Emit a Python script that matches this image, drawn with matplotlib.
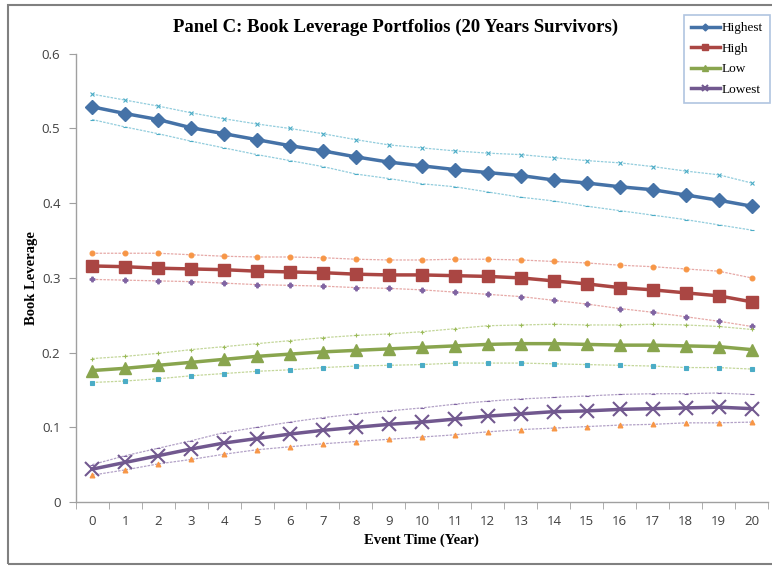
#!/usr/bin/env python3
import matplotlib
matplotlib.use("Agg")
import matplotlib.pyplot as plt
from matplotlib.patches import Rectangle

# event years
years = list(range(21))

# main portfolio series (book leverage)
highest = [0.529, 0.520, 0.512, 0.501, 0.493, 0.485, 0.477, 0.470, 0.462, 0.455, 0.450,
           0.445, 0.441, 0.437, 0.431, 0.427, 0.422, 0.418, 0.411, 0.404, 0.396]
high = [0.316, 0.315, 0.313, 0.312, 0.311, 0.309, 0.308, 0.307, 0.305, 0.304, 0.304,
        0.303, 0.302, 0.300, 0.296, 0.292, 0.287, 0.284, 0.280, 0.276, 0.268]
low = [0.176, 0.179, 0.183, 0.187, 0.191, 0.195, 0.198, 0.201, 0.203, 0.205, 0.207,
       0.209, 0.211, 0.212, 0.212, 0.211, 0.210, 0.210, 0.209, 0.208, 0.204]
lowest = [0.044, 0.053, 0.062, 0.071, 0.079, 0.085, 0.091, 0.096, 0.100, 0.104, 0.107,
          0.111, 0.115, 0.118, 0.121, 0.122, 0.124, 0.125, 0.126, 0.127, 0.125]

# confidence bands (upper / lower)
highest_up = [0.546, 0.538, 0.530, 0.521, 0.513, 0.506, 0.500, 0.493, 0.485, 0.478, 0.474,
              0.470, 0.467, 0.465, 0.461, 0.457, 0.454, 0.449, 0.443, 0.438, 0.427]
highest_lo = [0.512, 0.502, 0.493, 0.483, 0.474, 0.465, 0.457, 0.449, 0.439, 0.433, 0.426,
              0.422, 0.415, 0.408, 0.403, 0.396, 0.390, 0.384, 0.378, 0.371, 0.364]
high_up = [0.333, 0.333, 0.333, 0.331, 0.329, 0.328, 0.328, 0.327, 0.325, 0.324, 0.324,
           0.325, 0.325, 0.324, 0.322, 0.320, 0.317, 0.315, 0.312, 0.309, 0.300]
high_lo = [0.298, 0.297, 0.296, 0.295, 0.293, 0.291, 0.290, 0.289, 0.287, 0.286, 0.284,
           0.281, 0.278, 0.275, 0.270, 0.265, 0.259, 0.254, 0.248, 0.242, 0.235]
low_up = [0.192, 0.195, 0.199, 0.204, 0.208, 0.212, 0.216, 0.220, 0.223, 0.225, 0.228,
          0.232, 0.236, 0.237, 0.238, 0.237, 0.237, 0.238, 0.237, 0.235, 0.231]
low_lo = [0.160, 0.162, 0.165, 0.169, 0.172, 0.175, 0.177, 0.180, 0.182, 0.183, 0.184,
          0.186, 0.186, 0.186, 0.185, 0.184, 0.183, 0.182, 0.180, 0.180, 0.178]
lowest_up = [0.050, 0.062, 0.072, 0.082, 0.093, 0.100, 0.107, 0.113, 0.118, 0.122, 0.126,
             0.131, 0.135, 0.138, 0.140, 0.142, 0.144, 0.145, 0.145, 0.146, 0.144]
lowest_lo = [0.036, 0.043, 0.051, 0.057, 0.064, 0.070, 0.074, 0.078, 0.081, 0.084, 0.087,
             0.090, 0.094, 0.097, 0.099, 0.101, 0.103, 0.104, 0.106, 0.106, 0.107]

serif = "Liberation Serif"
sans = "Open Sans"

fig = plt.figure(figsize=(7.72, 5.66), dpi=100)
ax = fig.add_axes([0.098, 0.113, 0.897, 0.792])

# thin dotted bands first
bands = [
    (highest_up, "#93CDDD", "x", "#4BACC6"),
    (highest_lo, "#93CDDD", "_", "#4BACC6"),
    (high_up, "#E6A9A7", "o", "#F79646"),
    (high_lo, "#E6A9A7", "P", "#8064A2"),
    (low_up, "#C4D79B", "+", "#9BBB59"),
    (low_lo, "#C4D79B", "s", "#4BACC6"),
    (lowest_up, "#B3A2C7", "_", "#8064A2"),
    (lowest_lo, "#B3A2C7", "^", "#F79646"),
]
for vals, lc, mk, mc in bands:
    ax.plot(years, vals, color=lc, lw=0.9, ls=(0, (2, 1)), marker=mk, ms=3.5,
            mfc=mc, mec=mc, mew=0.8, zorder=2)

# main series
ax.plot(years, highest, color="#4572A7", lw=2.5, marker="D", ms=7, label="Highest", zorder=3)
ax.plot(years, high, color="#AA4643", lw=2.5, marker="s", ms=8, label="High", zorder=3)
ax.plot(years, low, color="#89A54E", lw=2.5, marker="^", ms=9, label="Low", zorder=3)
ax.plot(years, lowest, color="#71588F", lw=2.5, marker="x", ms=10, mew=1.5, label="Lowest", zorder=3)

ax.set_xlim(-0.5, 20.5)
ax.set_ylim(0, 0.6)
ax.set_yticks([0, 0.1, 0.2, 0.3, 0.4, 0.5, 0.6])
ax.set_yticklabels(["0", "0.1", "0.2", "0.3", "0.4", "0.5", "0.6"], family=sans, fontsize=9.5, color="#404040")
ax.set_xticks(years)
ax.set_xticklabels([str(y) for y in years], family=sans, fontsize=9.5, color="#404040")
ax.set_xticks([x - 0.5 for x in range(22)], minor=True)
ax.tick_params(axis="x", which="major", length=0, pad=9)
ax.tick_params(axis="x", which="minor", length=5, color="#A0A0A0", direction="out")
ax.tick_params(axis="y", length=5, color="#A0A0A0", pad=6)

for s in ["top", "right"]:
    ax.spines[s].set_visible(False)
for s in ["left", "bottom"]:
    ax.spines[s].set_color("#A0A0A0")
    ax.spines[s].set_linewidth(1)

ax.set_xlabel("Event Time (Year)", family=serif, fontweight="bold", fontsize=10.5, labelpad=4)
ax.set_ylabel("Book Leverage", family=serif, fontweight="bold", fontsize=10.5, labelpad=3)

fig.text(0.512, 0.952, "Panel C: Book Leverage Portfolios (20 Years Survivors)",
         family=serif, fontweight="bold", fontsize=13.5, ha="center", va="center")

leg = fig.legend(loc="upper right", bbox_to_anchor=(0.997, 0.9735), prop={"family": serif, "size": 9.5},
                 frameon=True, fancybox=False, handlelength=2.2, markerscale=0.5,
                 borderpad=0.55, labelspacing=0.62, handletextpad=0.1, borderaxespad=0)
leg.get_frame().set_edgecolor("#9DB6D9")
leg.get_frame().set_linewidth(1.2)

# outer chart border
fig.patches.append(Rectangle((8 / 772, 2 / 566), 1.0, 559 / 566, transform=fig.transFigure,
                             fill=False, edgecolor="#808080", lw=1.5))

fig.savefig("out.png", dpi=100)
